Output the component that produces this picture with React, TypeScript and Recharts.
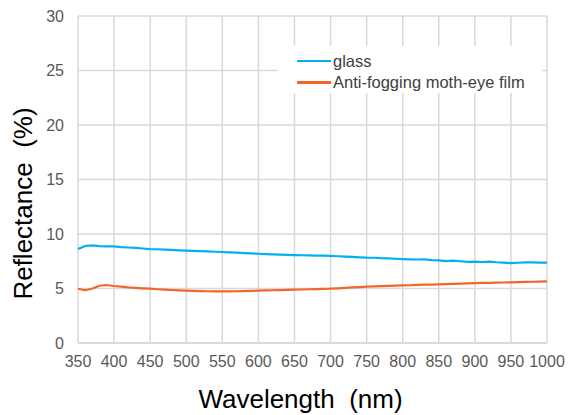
import React from 'react';
import { LineChart, Line, XAxis, YAxis, CartesianGrid } from 'recharts';

// wavelength in nm, 10 nm step
const wavelengths = [
  350, 360, 370, 380, 390, 400, 410, 420, 430, 440, 450, 460, 470, 480, 490, 500,
  510, 520, 530, 540, 550, 560, 570, 580, 590, 600, 610, 620, 630, 640, 650, 660,
  670, 680, 690, 700, 710, 720, 730, 740, 750, 760, 770, 780, 790, 800, 810, 820,
  830, 840, 850, 860, 870, 880, 890, 900, 910, 920, 930, 940, 950, 960, 970, 980,
  990, 1000,
];

// reflectance (%)
const glass = [
  8.62, 8.9, 8.95, 8.88, 8.86, 8.86, 8.8, 8.76, 8.72, 8.67, 8.62, 8.6, 8.57, 8.54, 8.5, 8.47,
  8.45, 8.42, 8.4, 8.37, 8.35, 8.32, 8.29, 8.25, 8.22, 8.19, 8.16, 8.13, 8.11, 8.09, 8.07, 8.05,
  8.04, 8.02, 8.01, 8.0, 7.96, 7.93, 7.9, 7.86, 7.83, 7.82, 7.78, 7.77, 7.73, 7.7, 7.68, 7.66,
  7.67, 7.6, 7.58, 7.52, 7.56, 7.5, 7.44, 7.47, 7.43, 7.46, 7.41, 7.38, 7.32, 7.36, 7.4, 7.39,
  7.38, 7.38,
];

const mothEye = [
  4.98, 4.84, 5.0, 5.25, 5.32, 5.23, 5.17, 5.1, 5.05, 5.01, 4.98, 4.93, 4.89, 4.86, 4.83, 4.8,
  4.78, 4.76, 4.75, 4.74, 4.74, 4.74, 4.75, 4.76, 4.78, 4.8, 4.82, 4.84, 4.86, 4.88, 4.89, 4.91,
  4.93, 4.95, 4.96, 4.98, 5.02, 5.06, 5.1, 5.13, 5.17, 5.19, 5.22, 5.24, 5.27, 5.29, 5.3, 5.33,
  5.35, 5.36, 5.38, 5.4, 5.43, 5.45, 5.47, 5.5, 5.51, 5.52, 5.54, 5.55, 5.56, 5.58, 5.6, 5.62,
  5.63, 5.65,
];

const xTicks = [350, 400, 450, 500, 550, 600, 650, 700, 750, 800, 850, 900, 950, 1000];
const yTicks = [0, 5, 10, 15, 20, 25, 30];

const BLUE = '#00b0f0';
const ORANGE = '#f0662b';
const FONT = '"Liberation Sans", Arial, sans-serif';

const series = [
  { key: 'glass', name: 'glass', color: BLUE },
  { key: 'film', name: 'Anti-fogging moth-eye film', color: ORANGE },
];

const data = wavelengths.map((w, i) => ({ w, glass: glass[i], film: mothEye[i] }));

// y axis title, pushed a bit below the middle like the original
function YTitle(props: any) {
  const vb = props.viewBox;
  const cx = 23;
  const cy = vb.y + vb.height / 2 + 24;
  return (
    <text x={cx} y={cy} transform={`rotate(-90 ${cx} ${cy})`} textAnchor="middle" dominantBaseline="central"
      fill="#000" fontSize={26} fontFamily={FONT} style={{ whiteSpace: 'pre' }}>
      {'Reflectance  (%)'}
    </text>
  );
}

function XTitle(props: any) {
  const vb = props.viewBox;
  const cx = vb.x + vb.width / 2 - 12;
  return (
    <text x={cx} y={399} textAnchor="middle" dominantBaseline="central"
      fill="#000" fontSize={26} fontFamily={FONT} style={{ whiteSpace: 'pre' }}>
      {'Wavelength  (nm)'}
    </text>
  );
}

export default function App() {
  return (
    <div style={{ position: 'absolute', left: 0, top: 0, width: 569, height: 415, background: '#fff' }}>
      <LineChart width={569} height={415} data={data} margin={{ top: 16, right: 22, left: 38, bottom: 42 }}>
        <CartesianGrid stroke="#d9d9d9" strokeWidth={1.5} />
        <XAxis
          dataKey="w"
          type="number"
          domain={[350, 1000]}
          ticks={xTicks}
          interval={0}
          tickLine={false}
          tickMargin={7}
          axisLine={{ stroke: '#d9d9d9', strokeWidth: 1.5 }}
          tick={{ fill: '#595959', fontSize: 16, fontFamily: FONT }}
          height={30}
          label={<XTitle />}
        />
        <YAxis
          type="number"
          domain={[0, 30]}
          ticks={yTicks}
          interval={0}
          tickLine={false}
          tickMargin={8}
          axisLine={false}
          width={40}
          tick={{ fill: '#595959', fontSize: 16, fontFamily: FONT }}
          label={<YTitle />}
        />
        {series.map((s) => (
          <Line key={s.key} name={s.name} dataKey={s.key} stroke={s.color} strokeWidth={2.2} dot={false} isAnimationActive={false} />
        ))}
      </LineChart>
      <div style={{ position: 'absolute', left: 278, top: 46, width: 264, height: 47, background: '#fff', fontFamily: FONT, paddingTop: 4, boxSizing: 'border-box' }}>
        {series.map((s) => (
          <div key={s.key} style={{ display: 'flex', alignItems: 'center', height: 21.5, paddingLeft: 19 }}>
            <span style={{ display: 'inline-block', width: 34, height: 2.5, background: s.color, marginRight: 2 }} />
            <span style={{ fontSize: 16.5, color: '#404040', lineHeight: '20px' }}>{s.name}</span>
          </div>
        ))}
      </div>
    </div>
  );
}
